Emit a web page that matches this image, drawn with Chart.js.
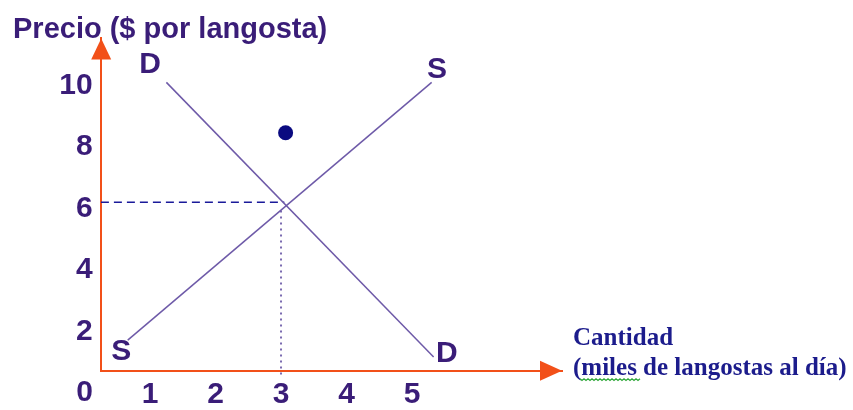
<!DOCTYPE html>
<html>
<head>
<meta charset="utf-8">
<script src="https://cdn.jsdelivr.net/npm/chart.js@4.4.0/dist/chart.umd.min.js"></script>
<style>
  html, body { margin: 0; padding: 0; background: #fff; }
</style>
</head>
<body>
<canvas id="oferta_demanda" width="853" height="410"></canvas>
<script>
// valores
var xTicks = [1, 2, 3, 4, 5];
var yTicks = [2, 4, 6, 8, 10];
var demanda = [{x: 1.25, y: 10.1}, {x: 5.33, y: 1.17}];
var oferta = [{x: 0.66, y: 1.72}, {x: 5.3, y: 10.1}];
var precioEq = [{x: 0.25, y: 6.2}, {x: 3.05, y: 6.2}];
var cantidadEq = [{x: 3, y: 0.6}, {x: 3, y: 6.0}];
var punto = [{x: 3.07, y: 8.46}];
var circulo = [{x: -0.91, y: 9.29}];
var etiquetas = [
    {text: 'D', x: 1.0, y: 10.68},
    {text: 'S', x: 5.38, y: 10.52},
    {text: 'S', x: 0.56, y: 1.33},
    {text: 'D', x: 5.53, y: 1.27}
];

var morado = '#3a1d78';
var naranja = '#f25019';
var fuente = '"Liberation Sans", Arial, sans-serif';

var extras = {
    id: 'extras',
    afterDraw: function(chart) {
        var ctx = chart.ctx;
        var a = chart.chartArea;
        var sx = chart.scales.x, sy = chart.scales.y;
        ctx.save();

        // flechas de los ejes
        ctx.fillStyle = naranja;
        ctx.beginPath();
        ctx.moveTo(a.left + 0.5, a.top);
        ctx.lineTo(a.left - 9.5, a.top + 21);
        ctx.lineTo(a.left + 10.5, a.top + 21);
        ctx.closePath();
        ctx.fill();
        ctx.beginPath();
        ctx.moveTo(a.right, a.bottom);
        ctx.lineTo(a.right - 22, a.bottom - 10);
        ctx.lineTo(a.right - 22, a.bottom + 10);
        ctx.closePath();
        ctx.fill();

        // etiquetas D y S, y el 0 del origen
        ctx.fillStyle = morado;
        ctx.font = 'bold 30px ' + fuente;
        ctx.textAlign = 'center';
        ctx.textBaseline = 'middle';
        etiquetas.forEach(function(e) {
            ctx.fillText(e.text, sx.getPixelForValue(e.x), sy.getPixelForValue(e.y));
        });
        ctx.fillText('0', sx.getPixelForValue(0), sy.getPixelForValue(0));

        // título del eje x
        ctx.fillStyle = '#1c1c8c';
        ctx.font = 'bold 25px "Liberation Serif", "Times New Roman", serif';
        ctx.textAlign = 'left';
        ctx.textBaseline = 'alphabetic';
        var tx = a.right + 11;
        ctx.fillText('Cantidad', tx, a.bottom - 26);
        ctx.fillText('(miles de langostas al día)', tx, a.bottom + 4);

        // subrayado ondulado bajo "miles"
        ctx.strokeStyle = '#2fa83a';
        ctx.lineWidth = 1.2;
        ctx.beginPath();
        var uy = a.bottom + 8;
        for (var i = 0; i <= 30; i++) {
            var px = tx + 7 + i * 2;
            var py = uy + (i % 2 === 0 ? 0 : 1.8);
            if (i === 0) ctx.moveTo(px, py); else ctx.lineTo(px, py);
        }
        ctx.stroke();
        ctx.restore();
    }
};

var ctx = document.getElementById('oferta_demanda').getContext('2d');
new Chart(ctx, {
    type: 'scatter',
    data: {
        datasets: [
            {data: demanda, showLine: true, borderColor: '#6e5aa8', borderWidth: 1.5, pointRadius: 0},
            {data: oferta, showLine: true, borderColor: '#6e5aa8', borderWidth: 1.5, pointRadius: 0},
            {data: precioEq, showLine: true, borderColor: '#1a1a9a', borderWidth: 1.5, borderDash: [8, 5], pointRadius: 0},
            {data: cantidadEq, showLine: true, borderColor: '#7a6ab0', borderWidth: 2, borderDash: [2, 4], pointRadius: 0, clip: false},
            {data: punto, pointRadius: 7.5, pointBackgroundColor: '#0a0a80', pointBorderWidth: 0},
            {data: circulo, pointRadius: 3, pointBackgroundColor: '#fff', pointBorderColor: '#000', pointBorderWidth: 1, clip: false}
        ]
    },
    options: {
        responsive: false,
        animation: false,
        layout: {padding: {left: 13, right: 291, top: 0, bottom: 0}},
        plugins: {
            legend: {display: false},
            tooltip: {enabled: false},
            title: {
                display: true,
                text: 'Precio ($ por langosta)',
                align: 'start',
                color: morado,
                font: {family: fuente, size: 29, weight: 'bold', lineHeight: 0.6},
                padding: {top: 21, bottom: 0}
            }
        },
        scales: {
            x: {
                type: 'linear',
                min: 0.247,
                max: 7.29,
                afterBuildTicks: function(s) { s.ticks = xTicks.map(function(v) { return {value: v}; }); },
                afterFit: function(s) { s.height = 39.3; },
                grid: {display: false, drawTicks: false},
                border: {display: true, color: naranja, width: 2},
                ticks: {color: morado, font: {family: fuente, size: 30, weight: 'bold'}, padding: 6, maxRotation: 0, autoSkip: false}
            },
            y: {
                type: 'linear',
                min: 0.724,
                max: 11.53,
                afterBuildTicks: function(s) { s.ticks = yTicks.map(function(v) { return {value: v}; }); },
                afterFit: function(s) { s.width = 87.7; },
                grid: {display: false, drawTicks: false},
                border: {display: true, color: naranja, width: 2},
                ticks: {color: morado, font: {family: fuente, size: 30, weight: 'bold'}, padding: 8, autoSkip: false}
            }
        }
    },
    plugins: [extras]
});
</script>
</body>
</html>
